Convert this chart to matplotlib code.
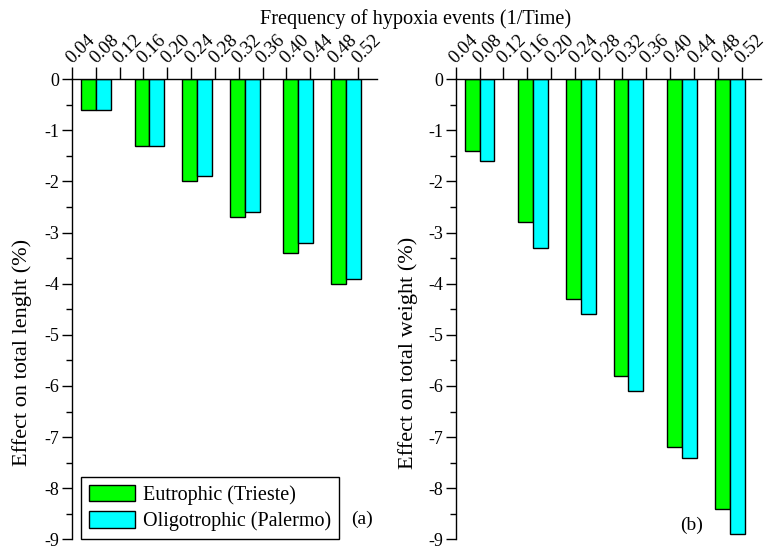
import matplotlib
matplotlib.use("Agg")
import matplotlib.pyplot as plt
from matplotlib.patches import Patch

plt.rcParams["font.family"] = ["Liberation Serif", "DejaVu Serif"]
plt.rcParams["axes.unicode_minus"] = False

# data
freq = [0.08, 0.17, 0.25, 0.33, 0.42, 0.50]
len_eutro = [-0.6, -1.3, -2.0, -2.7, -3.4, -4.0]
len_oligo = [-0.6, -1.3, -1.9, -2.6, -3.2, -3.9]
wt_eutro = [-1.4, -2.8, -4.3, -5.8, -7.2, -8.4]
wt_oligo = [-1.6, -3.3, -4.6, -6.1, -7.4, -8.9]
xticks = [0.04, 0.08, 0.12, 0.16, 0.20, 0.24, 0.28, 0.32, 0.36, 0.40, 0.44, 0.48, 0.52]
labels = ["Eutrophic (Trieste)", "Oligotrophic (Palermo)"]

GREEN = "#00ff00"
CYAN = "#00ffff"
W = 0.025


def _panel(ax, eutro, oligo, ylabel, tag, tag_xy, lab_x):
    ax.bar([f - W / 2 for f in freq], eutro, width=W, color=GREEN,
           edgecolor="black", linewidth=1.0)
    ax.bar([f + W / 2 for f in freq], oligo, width=W, color=CYAN,
           edgecolor="black", linewidth=1.0)
    ax.set_xlim(0.04, 0.552)
    ax.set_ylim(-9, 0)
    ax.xaxis.tick_top()
    ax.set_xticks(xticks)
    ax.set_xticklabels([f"{t:.2f}" for t in xticks], rotation=45,
                       ha="left", va="baseline", rotation_mode="anchor")
    ax.set_yticks(range(-9, 1))
    ax.set_yticks([v + 0.5 for v in range(-9, 0)], minor=True)
    ax.tick_params(axis="x", direction="out", length=9, width=1, labelsize=13.5, pad=2)
    ax.tick_params(axis="y", which="major", direction="out", length=7, width=1,
                   labelsize=13, pad=2)
    ax.tick_params(axis="y", which="minor", direction="out", length=4, width=1)
    for s in ("bottom", "right"):
        ax.spines[s].set_visible(False)
    ax.spines["left"].set_linewidth(1)
    ax.spines["top"].set_linewidth(1)
    ax.set_ylabel(ylabel, fontsize=16)
    ax.yaxis.set_label_coords(lab_x, 0.406)
    ax.text(tag_xy[0], tag_xy[1], tag, transform=ax.transAxes, fontsize=14,
            ha="center", va="center")


fig = plt.figure(figsize=(7.68, 5.49), dpi=100)
ax1 = fig.add_axes([0.09375, 0.0175, 0.397, 0.8385])
ax2 = fig.add_axes([0.5934, 0.0175, 0.397, 0.8385])

_panel(ax1, len_eutro, len_oligo, "Effect on total lenght (%)", "(a)", (0.95, 0.044), -0.13)
_panel(ax2, wt_eutro, wt_oligo, "Effect on total weight (%)", "(b)", (0.775, 0.03), -0.125)

handles = [Patch(facecolor=GREEN, edgecolor="black"),
           Patch(facecolor=CYAN, edgecolor="black")]
ax1.legend(handles, labels, loc="lower left", bbox_to_anchor=(0.03, 0.0),
           fontsize=14.5, frameon=True, fancybox=False, edgecolor="black",
           framealpha=1, handlelength=2.25, handleheight=0.9, handletextpad=0.4,
           labelspacing=0.3, borderpad=0.4, borderaxespad=0.0)

fig.text(0.5417, 0.965, "Frequency of hypoxia events (1/Time)", ha="center",
         va="center", fontsize=14.6)

fig.savefig("out.png", dpi=100)
